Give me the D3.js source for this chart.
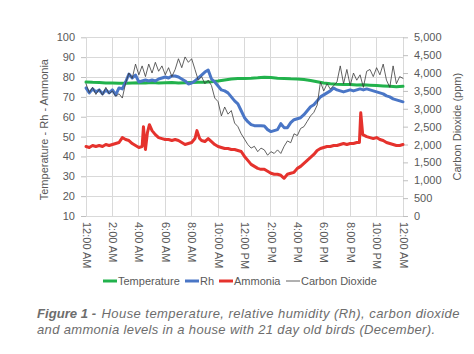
<!DOCTYPE html>
<html><head><meta charset="utf-8">
<script src="https://cdn.jsdelivr.net/npm/d3@7"></script>
<style>body{margin:0;background:#fff}svg{display:block}</style>
</head><body>
<svg id="c" width="474" height="354"></svg>
<script>
const tickLabels = ["12:00 AM","2:00 AM","4:00 AM","6:00 AM","8:00 AM","10:00 AM","12:00 PM","2:00 PM","4:00 PM","6:00 PM","8:00 PM","10:00 PM","12:00 AM"];
const leftTicks = [10,20,30,40,50,60,70,80,90,100];
const rightTicks = [0,500,1000,1500,2000,2500,3000,3500,4000,4500,5000];

const tempHours = d3.range(0, 24.01, 0.5);
const temperature = [77.5,77.3,77.2,77.0,77.0,76.8,76.9,77.0,77.1,77.0,77.2,77.0,77.1,77.2,77.0,77.1,77.2,77.3,77.4,77.6,78.0,78.5,79.0,79.2,79.3,79.4,79.6,79.9,79.7,79.4,79.3,79.1,79.0,78.7,78.2,77.6,77.0,76.6,76.3,76.2,76.2,76.0,76.1,75.9,75.7,75.5,75.3,75.1,75.3];

const rhHours = d3.range(0, 24.01, 0.25);
const rh = [74.5,72,74,72.5,73.5,71.5,73.5,72,73.5,71,74.5,74,77.5,81.5,79.5,81,77.5,78,78.5,78,78.5,78,79,79.5,80,79.5,80.5,80.5,80,79,78,76.5,77,78,79.5,81,82.5,83.5,79,77.5,75.5,73.5,73,72,70,68,66.5,63,59.5,57.5,56,55.5,55.5,55.5,55.3,53.5,52.5,53,53.5,56.5,54.5,54.5,57,58.5,59,59.5,61,63,65,66,68,70,71,72,73,74.5,73.5,73,72.5,73,73.5,73,73.5,74,73.5,74,73.5,73,72.5,72,71.5,70.5,70,69,68.5,68,67.5];

const ammoniaHours = [0,0.25,0.5,0.75,1,1.25,1.5,1.75,2,2.25,2.5,2.75,3,3.25,3.5,3.75,4,4.25,4.35,4.5,4.65,4.8,5,5.25,5.5,5.75,6,6.25,6.5,6.75,7,7.25,7.5,7.75,8,8.25,8.4,8.6,8.75,9,9.25,9.5,9.75,10,10.25,10.5,10.75,11,11.25,11.5,11.75,12,12.25,12.5,12.75,13,13.25,13.5,13.75,14,14.25,14.5,14.75,15,15.25,15.5,15.75,16,16.25,16.5,16.75,17,17.25,17.5,17.75,18,18.25,18.5,18.75,19,19.25,19.5,19.75,20,20.25,20.5,20.7,20.8,20.95,21.25,21.5,21.75,22,22.25,22.5,22.75,23,23.25,23.5,23.75,24];
const ammonia = [45,44.5,45.5,45,45.5,45,46,45.5,46,46.5,47,49.5,48.5,48,46.5,45.5,44.5,45,55,43.5,52,56,53,51,49.5,49,48.5,48.5,48,48.5,48,47,46,46.5,47,49,53,49,48,47.5,49,47.5,46,45,44.5,44,44,43.5,43.5,43,42.5,40,38,36,35,34,33.5,33.5,32.5,31.5,31,31,30.5,29,31,31.5,32,34,35,36.5,38,39.5,41,43,44,44.5,45,45,45.5,45.5,46,46.5,46,46.5,46.5,47,47,62,51,50,49.5,49,49.5,48.5,48,47,46.5,46,45.5,45.5,46];

const co2Hours = d3.range(0, 24.01, 0.25);
const co2 = [3700,3450,3600,3400,3550,3380,3600,3420,3500,3350,3420,3300,3720,4000,3850,4250,3950,4200,3900,4250,4000,4300,4050,4200,3950,4150,3900,4100,4400,4150,4450,4300,4400,4100,3800,3900,3700,3800,3650,3300,3200,2800,3050,2850,2950,2600,2500,2300,2150,2000,1900,1950,1800,1900,1850,1700,1800,1750,1850,1750,1950,2100,2050,2300,2250,2450,2500,2650,2800,2900,3100,3750,3500,3700,3550,3650,3750,4200,3700,4100,3650,4000,3800,3950,3600,4050,4100,3900,4150,3950,4250,3800,3600,4200,3700,3900,3850];

const svg = d3.select("#c");
const m = {l:86, r:403, t:37.3, b:216};
const x = d3.scaleLinear().domain([0,24]).range([m.l, m.r]);
const yL = d3.scaleLinear().domain([10,100]).range([m.b, m.t]);
const yR = d3.scaleLinear().domain([0,5000]).range([m.b, m.t]);
const font = "'Liberation Sans', Arial, sans-serif";
const txt = "#595959";

// grid
const g = svg.append("g");
g.selectAll("line.h").data(leftTicks).join("line")
  .attr("x1", m.l).attr("x2", m.r).attr("y1", d=>yL(d)).attr("y2", d=>yL(d))
  .attr("stroke", "#d9d9d9").attr("stroke-width", 1).attr("shape-rendering","crispEdges");
g.selectAll("line.v").data(d3.range(0,25,2)).join("line")
  .attr("x1", d=>x(d)).attr("x2", d=>x(d)).attr("y1", m.t).attr("y2", m.b)
  .attr("stroke", "#d9d9d9").attr("stroke-width", 1).attr("shape-rendering","crispEdges");

// left axis
const la = svg.append("g").attr("transform", `translate(${m.l},0)`)
  .call(d3.axisLeft(yL).tickValues(leftTicks).tickSize(5).tickPadding(6));
la.select(".domain").remove();
la.selectAll("line").attr("stroke","#bfbfbf");
la.selectAll("text").attr("font-family", font).attr("font-size", 11).attr("fill", txt);

// right axis
const ra = svg.append("g").attr("transform", `translate(${m.r},0)`)
  .call(d3.axisRight(yR).tickValues(rightTicks).tickSize(5).tickPadding(6).tickFormat(d3.format(",")));
ra.select(".domain").remove();
ra.selectAll("line").attr("stroke","#bfbfbf");
ra.selectAll("text").attr("font-family", font).attr("font-size", 11).attr("fill", txt);

// bottom axis
const ba = svg.append("g").attr("transform", `translate(0,${m.b})`)
  .call(d3.axisBottom(x).tickValues(d3.range(0,25,2)).tickSize(0).tickFormat((d,i)=>tickLabels[i]));
ba.select(".domain").remove();
ba.selectAll("text").attr("font-family", font).attr("font-size", 11).attr("fill", txt)
  .attr("transform", "rotate(90)").attr("text-anchor","start").attr("dy","0.35em").attr("x", 6).attr("y", 0);

// axis titles
svg.append("text").attr("transform", `translate(48,${(m.t+m.b)/2 + 3}) rotate(-90)`)
  .attr("text-anchor","middle").attr("font-family", font).attr("font-size", 11).attr("fill", txt)
  .text("Temperature - Rh - Ammonia");
svg.append("text").attr("transform", `translate(461,${(m.t+m.b)/2}) rotate(-90)`)
  .attr("text-anchor","middle").attr("font-family", font).attr("font-size", 11).attr("fill", txt)
  .text("Carbon Dioxide (ppm)");

// lines
const lineL = (hrs) => d3.line().x((d,i)=>x(hrs[i])).y(d=>yL(d));
const lineR = (hrs) => d3.line().x((d,i)=>x(hrs[i])).y(d=>yR(d));
const series = [
  {name:"Temperature", data:temperature, hrs:tempHours, color:"#22b24c", w:3, axis:"L"},
  {name:"Rh", data:rh, hrs:rhHours, color:"#4a76c6", w:3, axis:"L"},
  {name:"Ammonia", data:ammonia, hrs:ammoniaHours, color:"#e5322d", w:3, axis:"L"},
  {name:"Carbon Dioxide", data:co2, hrs:co2Hours, color:"#3a3a3a", w:0.8, axis:"R"}
];
series.forEach(s=>{
  svg.append("path").datum(s.data)
    .attr("d", (s.axis==="L"?lineL(s.hrs):lineR(s.hrs)))
    .attr("fill","none").attr("stroke", s.color).attr("stroke-width", s.w)
    .attr("stroke-linejoin","round").attr("stroke-linecap","round");
});

// legend
const legX = [103, 185, 219, 286];
const lg = svg.append("g");
series.forEach((s,i)=>{
  lg.append("line").attr("x1", legX[i]).attr("x2", legX[i]+14).attr("y1", 281).attr("y2", 281)
    .attr("stroke", s.color).attr("stroke-width", s.w);
  lg.append("text").attr("x", legX[i]+15).attr("y", 281).attr("dy","0.35em")
    .attr("font-family", font).attr("font-size", 11).attr("fill", txt).text(s.name);
});

// caption
const capStyle = t => t.attr("font-family", font).attr("font-size", 13).attr("font-style","italic").attr("fill","#6d6d6d");
capStyle(svg.append("text")).attr("x", 37).attr("y", 318).attr("font-weight","bold")
  .attr("textLength", 59).attr("lengthAdjust","spacingAndGlyphs").text("Figure 1 -");
capStyle(svg.append("text")).attr("x", 101.5).attr("y", 318)
  .attr("textLength", 358).attr("lengthAdjust","spacing").text("House temperature, relative humidity (Rh), carbon dioxide");
capStyle(svg.append("text")).attr("x", 37).attr("y", 334)
  .attr("textLength", 398).attr("lengthAdjust","spacing").text("and ammonia levels in a house with 21 day old birds (December).");
</script>
</body></html>
